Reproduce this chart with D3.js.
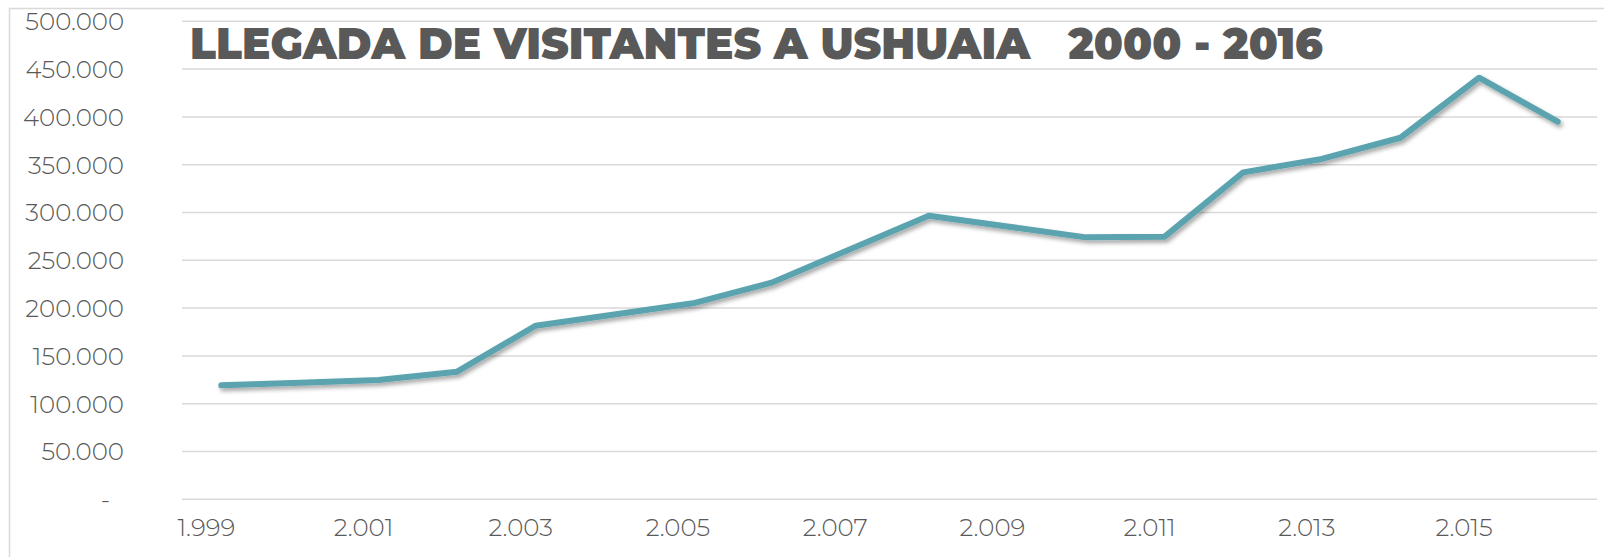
<!DOCTYPE html>
<html>
<head>
<meta charset="utf-8">
<script src="https://cdn.jsdelivr.net/npm/d3@7"></script>
<style>
  html, body { margin: 0; padding: 0; background: #fff; }
  svg { display: block; }
</style>
</head>
<body>
<script>
/******************************************************************************/
/* DATA                                                                       */
/******************************************************************************/
var years = [1999, 2000, 2001, 2002, 2003, 2004, 2005, 2006, 2007, 2008,
             2009, 2010, 2011, 2012, 2013, 2014, 2015, 2016];
var visitors = [119200, 122000, 124800, 133500, 181600, 193300, 205000, 226600, 261600, 296700,
                285400, 274000, 274700, 342000, 356000, 378200, 441000, 395000];
var yTicks = [0, 50000, 100000, 150000, 200000, 250000, 300000, 350000, 400000, 450000, 500000];
var xTickYears = [1999, 2001, 2003, 2005, 2007, 2009, 2011, 2013, 2015];
var title = 'LLEGADA DE VISITANTES A USHUAIA\u00a0\u00a0\u00a02000 - 2016';

/******************************************************************************/
/* GLOBAL                                                                     */
/******************************************************************************/
var width  = 1604;
var height = 557;
var grey = '#595959';

var fmt = function(v) {
  if (v === 0) return '-';
  return d3.format(',')(v).replace(/,/g, '.');
};

var fmtYear = function(y) {
  return d3.format(',')(y).replace(/,/g, '.');
};

var x = d3.scaleBand()
  .domain(years)
  .range([182, 1597]);

var y = d3.scaleLinear()
  .domain([0, 500000])
  .range([499.3, 21.3]);

/******************************************************************************/
/* DRAW                                                                       */
/******************************************************************************/
var svg = d3.select('body')
  .append('svg')
  .attr('width', width)
  .attr('height', height);

var defs = svg.append('defs');
defs.append('filter')
  .attr('id', 'shadow')
  .attr('x', '-5%').attr('y', '-20%')
  .attr('width', '110%').attr('height', '140%')
  .append('feDropShadow')
  .attr('dx', 2).attr('dy', 3)
  .attr('stdDeviation', 2)
  .attr('flood-color', '#000')
  .attr('flood-opacity', 0.35);

// chart border (top and left visible)
svg.append('path')
  .attr('d', 'M9.5,' + height + 'V8.5H' + width)
  .attr('fill', 'none')
  .attr('stroke', '#d9d9d9')
  .attr('stroke-width', 1.5);

// gridlines
svg.append('g')
  .selectAll('line')
  .data(yTicks)
  .enter()
  .append('line')
  .attr('x1', x.range()[0])
  .attr('x2', x.range()[1])
  .attr('y1', function(d) { return y(d); })
  .attr('y2', function(d) { return y(d); })
  .attr('stroke', '#d9d9d9')
  .attr('stroke-width', 1.5);

// y axis labels
svg.append('g')
  .selectAll('text')
  .data(yTicks)
  .enter()
  .append('text')
  .attr('x', function(d) { return d === 0 ? 110 : 124; })
  .attr('y', function(d) { return y(d); })
  .attr('dy', '0.36em')
  .attr('text-anchor', 'end')
  .attr('font-family', 'Montserrat, "Open Sans", sans-serif')
  .attr('font-weight', 300)
  .attr('font-size', 24.5)
  .attr('fill', grey)
  .text(fmt);

// x axis labels
svg.append('g')
  .selectAll('text')
  .data(xTickYears)
  .enter()
  .append('text')
  .attr('x', function(d) { return x(d) + x.bandwidth() / 2 - 15; })
  .attr('y', 536)
  .attr('text-anchor', 'middle')
  .attr('font-family', 'Montserrat, "Open Sans", sans-serif')
  .attr('font-weight', 300)
  .attr('font-size', 24.5)
  .attr('fill', grey)
  .text(fmtYear);

// line
var line = d3.line()
  .x(function(d, i) { return x(years[i]) + x.bandwidth() / 2; })
  .y(function(d) { return y(d); });

svg.append('path')
  .datum(visitors)
  .attr('d', line)
  .attr('fill', 'none')
  .attr('stroke', '#5aa3af')
  .attr('stroke-width', 6)
  .attr('stroke-linecap', 'round')
  .attr('stroke-linejoin', 'round')
  .attr('filter', 'url(#shadow)');

// title
svg.append('text')
  .attr('x', 190)
  .attr('y', 59)
  .attr('font-family', 'Montserrat, Inter, Lato, sans-serif')
  .attr('font-weight', 900)
  .attr('font-size', 44)
  .attr('fill', grey)
  .attr('textLength', 1133)
  .attr('lengthAdjust', 'spacingAndGlyphs')
  .text(title);
</script>
</body>
</html>
